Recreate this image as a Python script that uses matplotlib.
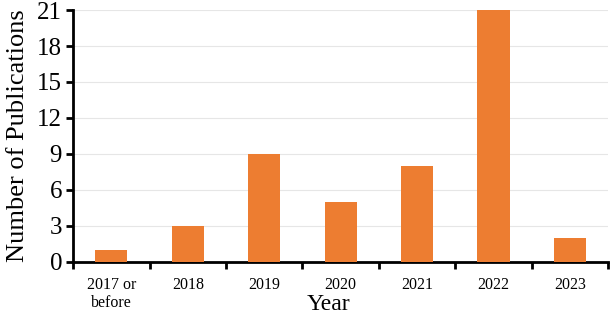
import numpy as np
import matplotlib
matplotlib.use("Agg")
import matplotlib.pyplot as plt

plt.rcParams['font.family'] = ['Liberation Serif', 'DejaVu Serif']

years = ["2017 or\nbefore", "2018", "2019", "2020", "2021", "2022", "2023"]
counts = [1, 3, 9, 5, 8, 21, 2]

fig = plt.figure(figsize=(6.1, 3.14), dpi=100)
ax = fig.add_axes([0.12, 0.166, 0.877, 0.802])

x = np.arange(len(years))
ax.bar(x, counts, width=0.42, color="#ED7D31", zorder=3)

ax.set_xlim(-0.5, len(years) - 0.5)
ax.set_ylim(0, 21)
ax.set_yticks(range(0, 22, 3))
ax.set_xticks(x)
ax.set_xticklabels(years, fontsize=11.5, linespacing=1.15)
ax.set_xticks(np.arange(-0.5, len(years), 1), minor=True)
ax.tick_params(axis='x', which='major', length=0, pad=11)
ax.tick_params(axis='x', which='minor', length=5, width=2, direction='out')
ax.tick_params(axis='y', labelsize=18, length=5, width=2, direction='out', pad=3)

ax.yaxis.grid(True, color="#e6e6e6", linewidth=0.8, zorder=0)
ax.set_axisbelow(True)

for s in ['top', 'right']:
    ax.spines[s].set_visible(False)
for s in ['left', 'bottom']:
    ax.spines[s].set_linewidth(2)

ax.set_ylabel("Number of Publications", fontsize=19, labelpad=6)
fig.text(0.538, 0.013, "Year", fontsize=17, ha="center", va="baseline")

fig.savefig("out.png", dpi=100)
